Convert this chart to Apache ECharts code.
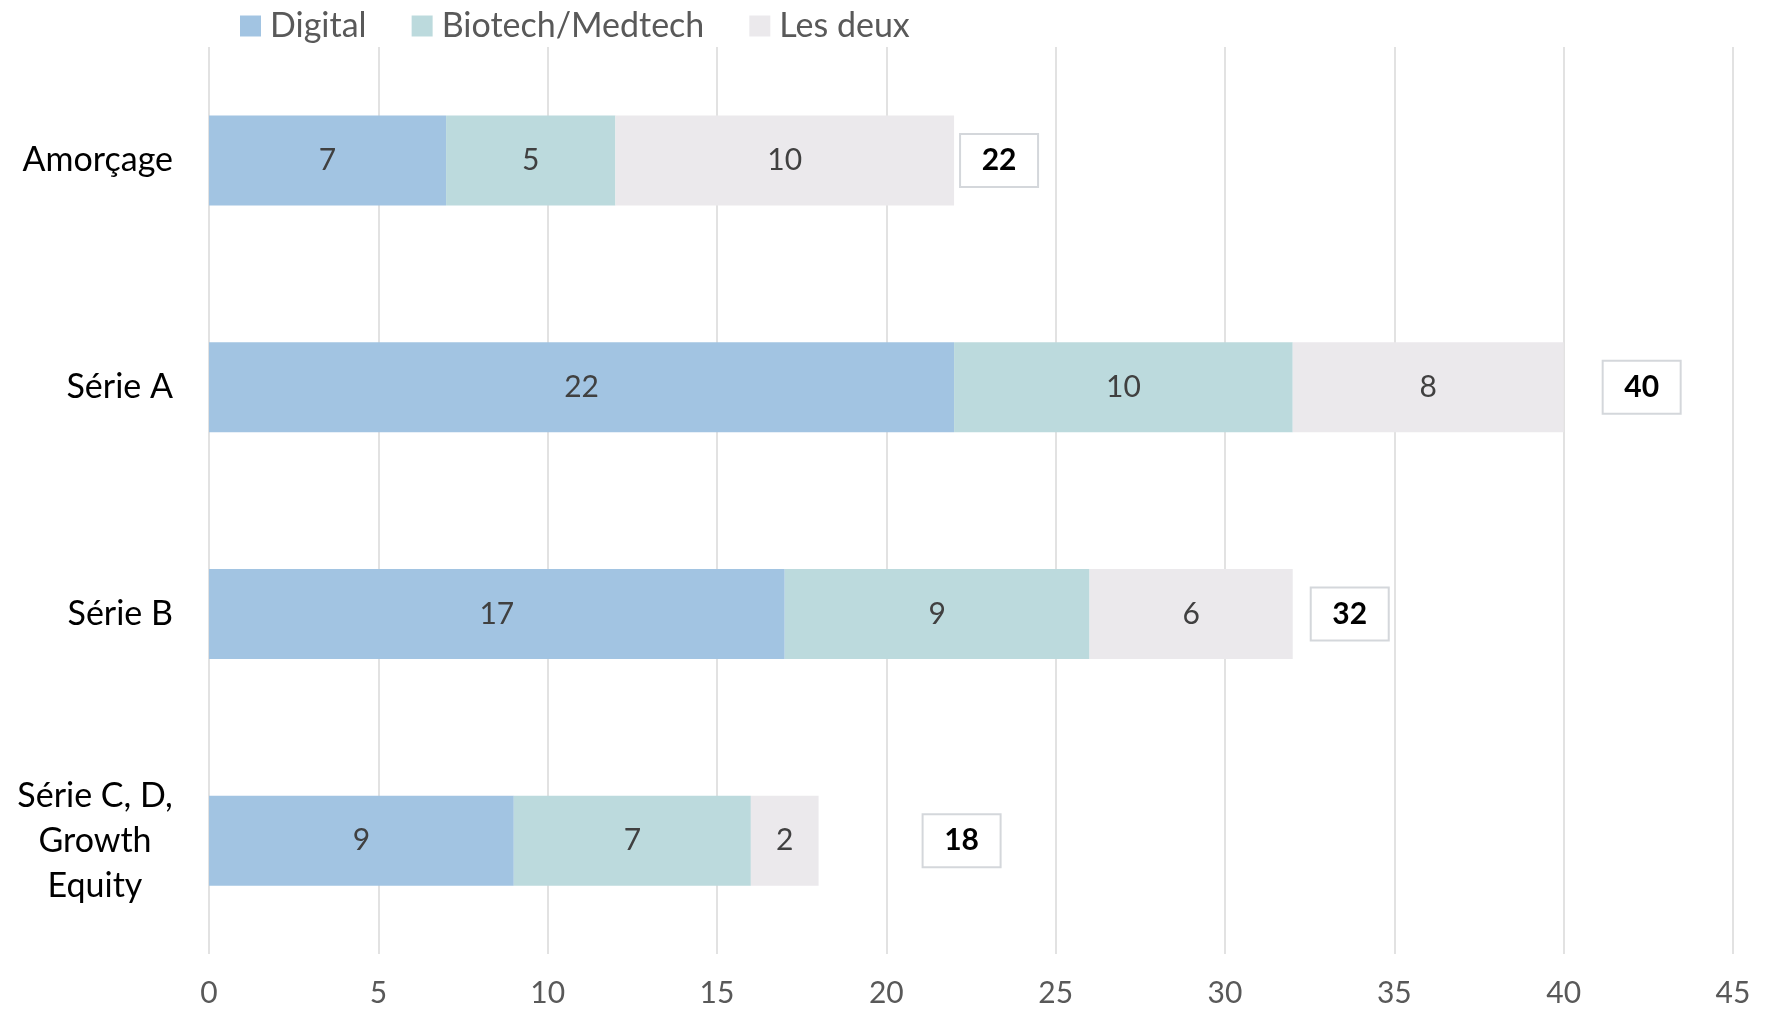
<!DOCTYPE html>
<html lang="fr">
<head>
    <meta charset="UTF-8">
    <title>Tours de financement</title>
    <script src="https://cdn.jsdelivr.net/npm/echarts@6/dist/echarts.min.js"></script>
    <style>
        html, body { margin: 0; padding: 0; background: #fff; }
        #main { width: 1769px; height: 1010px; }
    </style>
</head>
<body>
<div id="main"></div>
<script>
    // données
    var categories = ['Amorçage', 'Série A', 'Série B', 'Série C, D,\nGrowth\nEquity'];
    var digital = [7, 22, 17, 9];
    var biotech = [5, 10, 9, 7];
    var lesDeux = [10, 8, 6, 2];
    var totals = [22, 40, 32, 18];
    var xTicks = [0, 5, 10, 15, 20, 25, 30, 35, 40, 45];

    var font = 'Lato, "Open Sans", sans-serif';
    // écart entre la barre et la boîte du total (placé à la main dans l'original)
    var totalGap = [7, 40, 19, 105];

    var myChart = echarts.init(document.getElementById('main'));

    function barSeries(name, data, color) {
        return {
            name: name,
            type: 'bar',
            stack: 'total',
            barWidth: 90,
            data: data,
            itemStyle: { color: color },
            label: {
                show: true,
                position: 'inside',
                color: '#404040',
                fontFamily: font,
                fontSize: 30
            }
        };
    }

    var option = {
        animation: false,
        backgroundColor: '#ffffff',
        grid: { left: 209, right: 36, top: 47, bottom: 56, containLabel: false },
        legend: {
            left: 235,
            top: 4,
            itemWidth: 21,
            itemHeight: 21,
            itemGap: 45,
            icon: 'rect',
            data: ['Digital', 'Biotech/Medtech', 'Les deux'],
            textStyle: { color: '#595959', fontFamily: font, fontSize: 34, padding: [0, 0, 0, 4] }
        },
        xAxis: {
            type: 'value',
            min: 0,
            max: 45,
            interval: 5,
            axisLine: { show: false },
            axisTick: { show: false },
            splitLine: { lineStyle: { color: '#d9d9d9', width: 1.5 } },
            axisLabel: {
                color: '#595959',
                fontFamily: font,
                fontSize: 30,
                margin: 24,
                formatter: function (v) { return xTicks.indexOf(v) >= 0 ? String(v) : ''; }
            }
        },
        yAxis: {
            type: 'category',
            inverse: true,
            data: categories,
            axisLine: { show: false },
            axisTick: { show: false },
            axisLabel: {
                color: '#000000',
                fontFamily: font,
                fontSize: 34,
                margin: 36,
                lineHeight: 45,
                formatter: function (v) {
                    if (v.indexOf('\n') < 0) return v;
                    return v.split('\n').map(function (s) { return '{m|' + s + '}'; }).join('\n');
                },
                rich: {
                    m: { width: 156, align: 'center', fontFamily: font, fontSize: 34, color: '#000000', lineHeight: 45 }
                }
            }
        },
        series: [
            barSeries('Digital', digital, '#a2c4e2'),
            barSeries('Biotech/Medtech', biotech, '#bcdadd'),
            barSeries('Les deux', lesDeux, '#ebe9ec'),
            {
                name: 'Total',
                type: 'bar',
                barWidth: 90,
                barGap: '-100%',
                silent: true,
                z: 1,
                itemStyle: { color: 'rgba(0,0,0,0)' },
                data: totals.map(function (v, i) {
                    return { value: v, label: { distance: totalGap[i] } };
                }),
                label: {
                    show: true,
                    position: 'right',
                    formatter: '{t|{c}}',
                    padding: 0,
                    backgroundColor: '#ffffff',
                    borderColor: '#d4d7db',
                    borderWidth: 2,
                    rich: {
                        t: {
                            width: 76,
                            height: 51,
                            lineHeight: 51,
                            align: 'center',
                            color: '#000000',
                            fontFamily: font,
                            fontWeight: 'bold',
                            fontSize: 30
                        }
                    }
                }
            }
        ]
    };

    myChart.setOption(option);
</script>
</body>
</html>
